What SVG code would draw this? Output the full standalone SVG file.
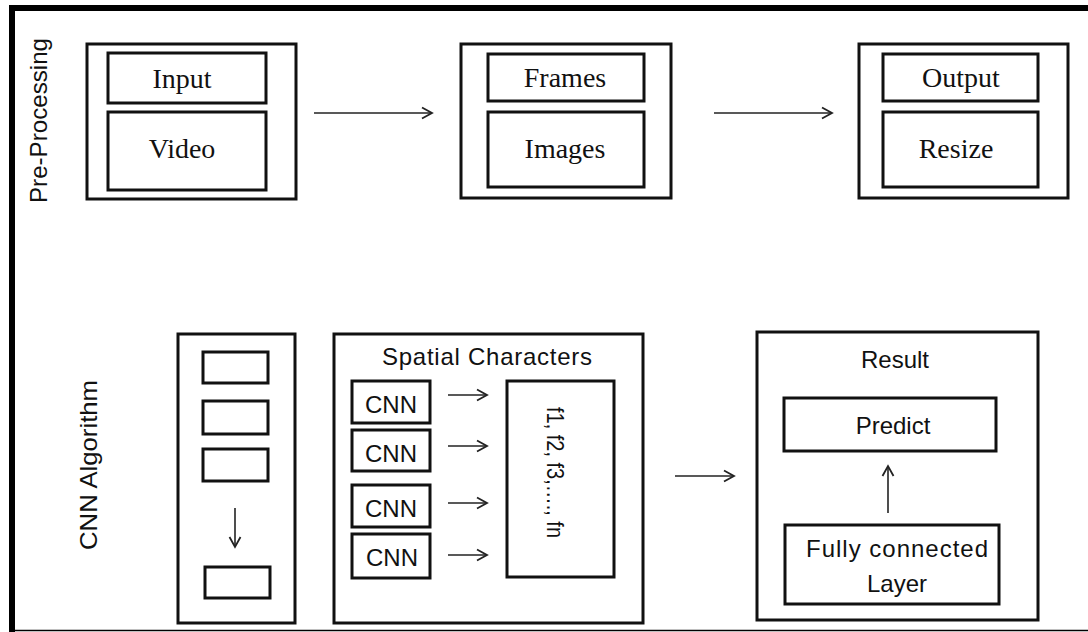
<svg xmlns="http://www.w3.org/2000/svg" width="1088" height="632" viewBox="0 0 1088 632">
<defs>
<style>
.box{fill:#fff;stroke:#111;stroke-width:3}
.conn{fill:none;stroke:#222;stroke-width:1.6}
.serif{font-family:"Liberation Serif","Times New Roman",serif;font-size:28px;fill:#111;text-anchor:middle}
.sans{font-family:"Liberation Sans",Arial,sans-serif;font-size:24px;fill:#111;text-anchor:middle}
</style>
<marker id="ah" markerWidth="14" markerHeight="14" refX="12" refY="7" orient="auto" markerUnits="userSpaceOnUse">
<polyline points="2,1.5 12,7 2,12.5" fill="none" stroke="#222" stroke-width="1.8"/>
</marker>
</defs>
<rect x="0" y="0" width="1088" height="632" fill="#fff"/>
<g id="frame">
<line x1="12" y1="8" x2="12" y2="632" stroke="#000" stroke-width="6"/>
<line x1="9" y1="8" x2="1088" y2="8" stroke="#000" stroke-width="6"/>
<line x1="9" y1="630.5" x2="1088" y2="630.5" stroke="#000" stroke-width="1.5"/>
</g>
<g id="label-preprocessing">
<text class="sans" font-size="22" transform="translate(47,120.5) rotate(-90)" textLength="165" lengthAdjust="spacingAndGlyphs">Pre-Processing</text>
</g>
<g id="label-cnn-algorithm">
<text class="sans" font-size="25" transform="translate(97,465) rotate(-90)" textLength="170" lengthAdjust="spacingAndGlyphs">CNN Algorithm</text>
</g>
<g id="node-input-video">
<rect class="box" x="87" y="44" width="209" height="155"/>
<rect class="box" x="108" y="53" width="158" height="50"/>
<text class="serif" x="182" y="88">Input</text>
<rect class="box" x="108" y="112" width="158" height="78"/>
<text class="serif" x="182" y="158">Video</text>
</g>
<g id="node-frames-images">
<rect class="box" x="461" y="44" width="210" height="154"/>
<rect class="box" x="488" y="54" width="156" height="47"/>
<text class="serif" x="565" y="87">Frames</text>
<rect class="box" x="488" y="112" width="156" height="75"/>
<text class="serif" x="565" y="158">Images</text>
</g>
<g id="node-output-resize">
<rect class="box" x="859" y="44" width="209" height="154"/>
<rect class="box" x="883" y="54" width="155" height="47"/>
<text class="serif" x="961" y="87">Output</text>
<rect class="box" x="883" y="112" width="155" height="75"/>
<text class="serif" x="956" y="158">Resize</text>
</g>
<g id="node-frame-stack">
<rect class="box" x="178" y="334" width="117" height="289"/>
<rect class="box" x="203" y="352" width="65" height="31"/>
<rect class="box" x="203" y="401" width="65" height="33"/>
<rect class="box" x="203" y="449" width="65" height="32"/>
<rect class="box" x="205" y="567" width="65" height="31"/>
</g>
<g id="node-spatial">
<rect class="box" x="334" y="334" width="309" height="289"/>
<text class="sans" x="487" y="365" textLength="210" lengthAdjust="spacing">Spatial Characters</text>
<rect class="box" x="352" y="381" width="78" height="42"/>
<text class="sans" x="391" y="413">CNN</text>
<rect class="box" x="352" y="430" width="78" height="41"/>
<text class="sans" x="391" y="462">CNN</text>
<rect class="box" x="352" y="485" width="78" height="42"/>
<text class="sans" x="391" y="517">CNN</text>
<rect class="box" x="352" y="534" width="78" height="44"/>
<text class="sans" x="392" y="566">CNN</text>
<rect class="box" x="507" y="381" width="107" height="196"/>
<text class="sans" font-size="21" transform="translate(547,472.5) rotate(90)" textLength="131" lengthAdjust="spacingAndGlyphs">f1, f2, f3,…., fn</text>
</g>
<g id="node-result">
<rect class="box" x="757" y="332" width="281" height="288"/>
<text class="sans" x="895" y="368">Result</text>
<rect class="box" x="784" y="398" width="212" height="53"/>
<text class="sans" x="893" y="434" font-size="25">Predict</text>
<rect class="box" x="785" y="525" width="214" height="79"/>
<text class="sans" x="897" y="557" textLength="182" lengthAdjust="spacing">Fully connected</text>
<text class="sans" x="897" y="592">Layer</text>
</g>
<g id="connectors">
<line class="conn" x1="314" y1="113" x2="432" y2="113" marker-end="url(#ah)"/>
<line class="conn" x1="714" y1="113" x2="832" y2="113" marker-end="url(#ah)"/>
<line class="conn" x1="235" y1="508" x2="235" y2="547" marker-end="url(#ah)"/>
<line class="conn" x1="448" y1="395" x2="487" y2="395" marker-end="url(#ah)"/>
<line class="conn" x1="448" y1="446" x2="487" y2="446" marker-end="url(#ah)"/>
<line class="conn" x1="448" y1="503" x2="487" y2="503" marker-end="url(#ah)"/>
<line class="conn" x1="448" y1="555" x2="487" y2="555" marker-end="url(#ah)"/>
<line class="conn" x1="675" y1="476" x2="734" y2="476" marker-end="url(#ah)"/>
<line class="conn" x1="888" y1="513" x2="888" y2="466" marker-end="url(#ah)"/>
</g>
</svg>
